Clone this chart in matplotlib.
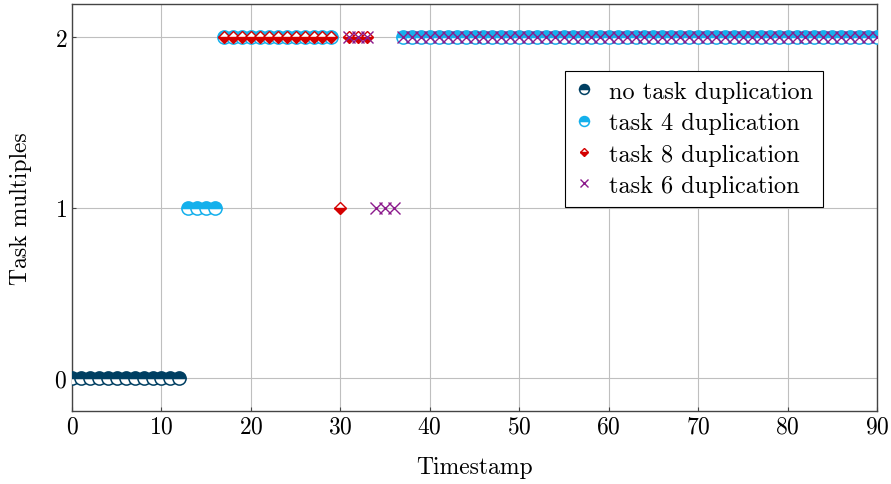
import matplotlib
matplotlib.use("Agg")
import matplotlib.pyplot as plt
import numpy as np

plt.rcParams['font.family'] = 'serif'
plt.rcParams['font.serif'] = ['cmr10']
plt.rcParams['axes.formatter.use_mathtext'] = True
plt.rcParams['mathtext.fontset'] = 'cm'

# Data
no_dup_x = list(range(0, 13))
no_dup_y = [0] * 13

t4_x = list(range(13, 17)) + list(range(17, 30)) + list(range(37, 91))
t4_y = [1] * 4 + [2] * 13 + [2] * 54

t8_x = list(range(17, 30)) + [30] + [31, 32, 33]
t8_y = [2] * 13 + [1] + [2, 2, 2]

t6_x = [31, 32, 33] + [34, 35, 36] + list(range(37, 91))
t6_y = [2, 2, 2] + [1, 1, 1] + [2] * 54

c_navy = '#003f62'
c_cyan = '#14b0ec'
c_red = '#d40000'
c_purple = '#8c1a8c'

fig = plt.figure(figsize=(8.91, 4.85), dpi=100)
ax = fig.add_axes([72/891, 1 - 412/485, (877-72)/891, (412-5)/485])

ax.plot(no_dup_x, no_dup_y, linestyle='none', marker='o', ms=9.5, mew=1.1,
        mec=c_navy, mfc=c_navy, fillstyle='top', markerfacecoloralt='white',
        label='no task duplication', zorder=3)
ax.plot(t4_x, t4_y, linestyle='none', marker='o', ms=9.5, mew=1.1,
        mec=c_cyan, mfc=c_cyan, fillstyle='top', markerfacecoloralt='white',
        label='task 4 duplication', zorder=3)
ax.plot(t8_x, t8_y, linestyle='none', marker='D', ms=6, mew=1.0,
        mec=c_red, mfc=c_red, fillstyle='bottom', markerfacecoloralt='white',
        label='task 8 duplication', zorder=4)
ax.plot(t6_x, t6_y, linestyle='none', marker='x', ms=8, mew=1.0,
        color=c_purple, label='task 6 duplication', zorder=5)

ax.set_xlim(0, 90)
ax.set_ylim(-0.194, 2.194)
ax.set_xticks(np.arange(0, 91, 10))
ax.set_yticks([0, 1, 2])
ax.grid(True, color='#bfbfbf', linewidth=0.8)
ax.set_axisbelow(True)
ax.tick_params(direction='in', length=3, labelsize=17, color='#444444')
for s in ax.spines.values():
    s.set_color('#444444')
    s.set_linewidth(1.0)

ax.set_xlabel('Timestamp', fontsize=17, labelpad=13)
ax.set_ylabel('Task multiples', fontsize=17, labelpad=16)

leg = ax.legend(loc='upper left', bbox_to_anchor=((565-72)/805, (412-72)/407),
                fontsize=17.5, frameon=True, fancybox=False, edgecolor='black',
                framealpha=1, handlelength=0.8, handletextpad=0.6,
                borderpad=0.4, labelspacing=0.38, borderaxespad=0,
                markerscale=0.75)
leg.get_frame().set_linewidth(0.8)

fig.savefig('out.png', dpi=100)
